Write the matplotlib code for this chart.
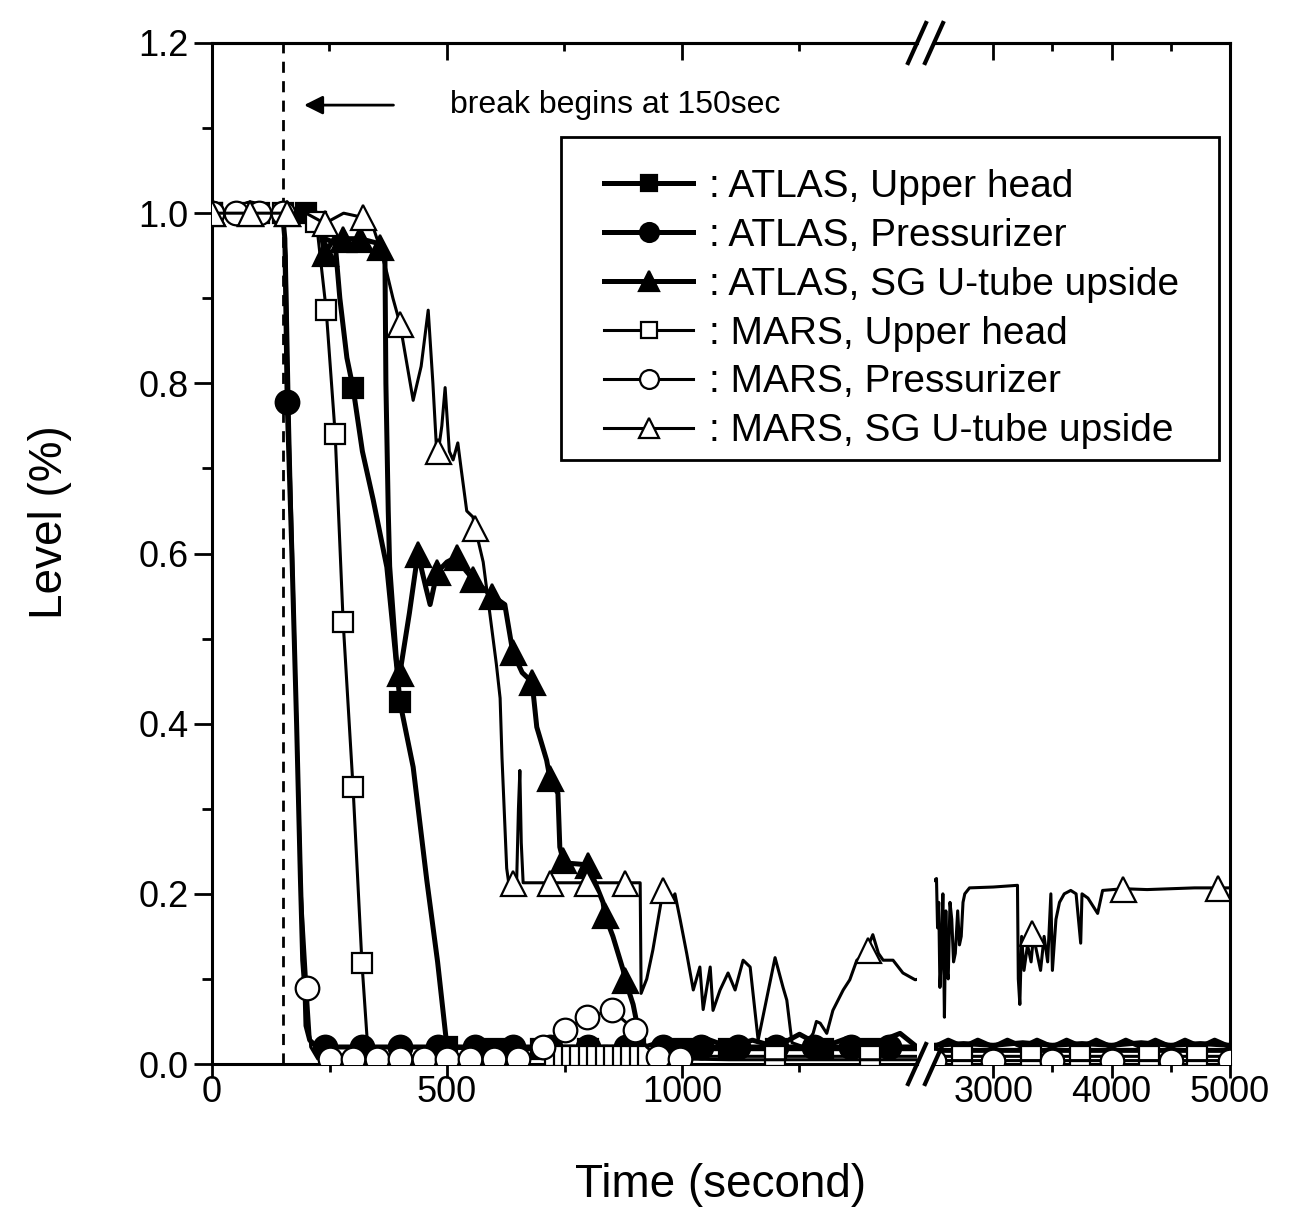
import matplotlib
matplotlib.use('Agg')
import matplotlib.pyplot as plt
from matplotlib.lines import Line2D
from matplotlib.patches import Rectangle
from matplotlib.ticker import FixedLocator, FormatStrFormatter

plt.rcParams['font.family'] = ['Liberation Sans', 'DejaVu Sans']

# ---- data (time in s, level as fraction) ----
atlas_uh_t = [0, 150, 220, 240, 262, 272, 287, 300, 320, 343, 372, 393, 400, 428, 457, 480, 500,
              600, 700, 800, 900, 1000, 1100, 1200, 1300, 1400, 1500,
              2500, 3000, 3500, 4000, 4500, 5000]
atlas_uh_v = [1.0, 1.0, 1.0, 0.97, 0.965, 0.9, 0.83, 0.795, 0.72, 0.663, 0.584, 0.467, 0.425, 0.349, 0.216, 0.12, 0.02,
              0.018, 0.018, 0.018, 0.018, 0.018, 0.018, 0.018, 0.018, 0.018, 0.018,
              0.016, 0.016, 0.016, 0.016, 0.016, 0.016]
atlas_uh_mt = [0, 100, 200, 300, 400, 500, 600, 700, 800, 900, 1000, 1100, 1200, 1300, 1400]
atlas_uh_mv = [1.0, 1.0, 1.0, 0.795, 0.425, 0.02, 0.018, 0.018, 0.018, 0.018, 0.018, 0.018, 0.018, 0.018, 0.018]

atlas_pzr_t = [0, 150, 155, 160, 170, 180, 188, 193, 198, 200, 208, 223, 300, 400, 500, 600, 700, 800,
               900, 1000, 1100, 1200, 1300, 1400, 1500,
               2500, 2750, 3000, 3250, 3500, 3750, 4000, 4250, 4500, 4750, 5000]
atlas_pzr_v = [1.0, 1.0, 0.97, 0.778, 0.6, 0.4, 0.22, 0.122, 0.085, 0.045, 0.028, 0.02, 0.02, 0.02, 0.02, 0.02, 0.02, 0.02,
               0.02, 0.02, 0.02, 0.02, 0.02, 0.02, 0.02,
               0.022, 0.024, 0.022, 0.025, 0.022, 0.024, 0.022, 0.025, 0.022, 0.024, 0.022]
atlas_pzr_mt = [0, 80, 160, 240, 320, 400, 480, 560, 640, 720, 800, 880, 960, 1040, 1120, 1200, 1280, 1360, 1440]
atlas_pzr_mv = [1.0, 1.0, 0.778] + [0.02] * 16

atlas_sg_t = [0, 150, 200, 223, 240, 260, 279, 315, 350, 357, 362, 368, 370, 375, 378, 393, 400, 420, 438,
              455, 464, 479, 500, 521, 540, 555, 575, 596, 610, 623, 640, 660, 681, 691, 712, 719, 736, 740,
              747, 757, 780, 800, 832, 836, 853, 875, 879, 896, 904, 921,
              950, 1000, 1050, 1100, 1150, 1200, 1250, 1300, 1350, 1400, 1464, 1500,
              2500, 2620, 2750, 2870, 3000, 3120, 3250, 3370, 3500, 3620, 3750, 3870, 4000, 4120,
              4250, 4370, 4500, 4620, 4750, 4870, 5000]
atlas_sg_v = [1.0, 1.0, 1.0, 1.0, 0.953, 0.97, 0.97, 0.97, 0.965, 0.96, 0.95, 0.945, 0.8, 0.65, 0.585, 0.47, 0.46, 0.53, 0.6,
              0.56, 0.54, 0.578, 0.59, 0.596, 0.58, 0.57, 0.56, 0.55, 0.545, 0.54, 0.484, 0.46, 0.449, 0.396, 0.357, 0.336, 0.318, 0.255,
              0.24, 0.236, 0.235, 0.234, 0.19, 0.175, 0.15, 0.11, 0.099, 0.07, 0.048, 0.02,
              0.025, 0.02, 0.03, 0.02, 0.028, 0.02, 0.035, 0.02, 0.03, 0.022, 0.036, 0.02,
              0.02, 0.028, 0.02, 0.028, 0.02, 0.028, 0.02, 0.028, 0.02, 0.028, 0.02, 0.028, 0.02, 0.028,
              0.02, 0.028, 0.02, 0.028, 0.02, 0.028, 0.02]
atlas_sg_mt = [0, 80, 160, 240, 279, 315, 357, 400, 438, 479, 521, 555, 596, 640, 681, 719, 747, 800, 836, 879]
atlas_sg_mv = [1.0, 1.0, 1.0, 0.953, 0.97, 0.97, 0.96, 0.46, 0.6, 0.578, 0.596, 0.57, 0.55, 0.484, 0.449, 0.336,
               0.24, 0.234, 0.175, 0.099]

mars_uh_t = [0, 150, 215, 222, 243, 262, 279, 300, 319, 330, 345, 400, 500, 600, 700, 800, 900, 1000,
             1100, 1200, 1300, 1400, 1500, 2500, 3000, 3500, 4000, 4500, 5000]
mars_uh_v = [1.0, 1.0, 1.0, 0.99, 0.886, 0.741, 0.52, 0.326, 0.119, 0.03, 0.009, 0.009, 0.009, 0.009, 0.009, 0.009,
             0.009, 0.009, 0.009, 0.009, 0.009, 0.009, 0.009, 0.009, 0.009, 0.009, 0.009, 0.009, 0.009]
mars_uh_mt = [0, 75, 150, 222, 243, 262, 279, 300, 319,
              730, 748, 766, 784, 802, 820, 838, 856, 874, 892, 910, 928, 1198, 1400,
              2736, 3319, 3733, 4316, 4721]
mars_uh_mv = [1.0, 1.0, 1.0, 0.99, 0.886, 0.741, 0.52, 0.326, 0.119] + [0.009] * 19

mars_pzr_t = [0, 150, 158, 165, 178, 190, 202, 210, 225, 300, 400, 500, 600, 650, 680, 704, 751, 798, 851,
              900, 925, 949, 996, 1100, 1200, 1300, 1400, 1500, 2500, 3000, 3500, 4000, 4500, 5000]
mars_pzr_v = [1.0, 1.0, 0.95, 0.75, 0.45, 0.2, 0.089, 0.02, 0.006, 0.006, 0.006, 0.006, 0.006, 0.006, 0.012, 0.02,
              0.04, 0.055, 0.063, 0.04, 0.02, 0.008, 0.006, 0.005, 0.005, 0.005, 0.005, 0.005, 0.004, 0.004,
              0.004, 0.004, 0.004, 0.004]
mars_pzr_mt = [0, 50, 100, 150, 202, 250, 300, 350, 400, 450, 500, 550, 600, 650, 704, 751, 798, 851, 900,
               949, 996, 2500, 3000, 3500, 4000, 4500, 5000]
mars_pzr_mv = [1.0, 1.0, 1.0, 1.0, 0.089, 0.006, 0.006, 0.006, 0.006, 0.006, 0.006, 0.006, 0.006, 0.006,
               0.02, 0.04, 0.055, 0.063, 0.04, 0.008, 0.006, 0.004, 0.004, 0.004, 0.004, 0.004, 0.004]

mars_sg_t = [0, 150, 200, 240, 280, 321, 345, 357, 372, 385, 400, 428, 445, 460, 470, 479, 489, 496, 505, 513,
             523, 530, 542, 555, 560, 577, 591, 605, 613, 617, 627, 632, 648, 652, 655, 658, 662, 700, 800,
             905, 911, 913, 925, 938, 960, 975, 985, 996, 1010, 1024, 1038, 1045, 1060, 1066, 1081, 1098,
             1113, 1130, 1145, 1162, 1172, 1198, 1215, 1223, 1234, 1260, 1279, 1286, 1294, 1308, 1321, 1343,
             1357, 1372, 1390, 1406, 1418, 1428, 1449, 1470, 1496,
             2521, 2530, 2540, 2550, 2560, 2575, 2588, 2600, 2610, 2620, 2635, 2650, 2665, 2680, 2700, 2715,
             2730, 2745, 2760, 2800, 3000, 3205,
             3212, 3225, 3240, 3260, 3290, 3320, 3340, 3370, 3400, 3430, 3460, 3487, 3500, 3530, 3560,
             3600, 3655, 3700, 3739, 3750, 3800, 3882, 3924, 4100, 4300, 4500, 4700, 5000]
mars_sg_v = [1.0, 1.0, 1.0, 0.988, 1.0, 0.995, 0.98, 0.96, 0.93, 0.9, 0.87, 0.78, 0.82, 0.886, 0.8, 0.71, 0.75,
             0.795, 0.72, 0.71, 0.73, 0.7, 0.65, 0.643, 0.63, 0.59, 0.53, 0.47, 0.43, 0.36, 0.23, 0.21, 0.21,
             0.30, 0.345, 0.26, 0.213, 0.213, 0.213, 0.213, 0.213, 0.083, 0.1, 0.134, 0.205, 0.19, 0.2, 0.17,
             0.13, 0.087, 0.114, 0.064, 0.114, 0.063, 0.087, 0.107, 0.087, 0.122, 0.114, 0.028, 0.055, 0.125,
             0.09, 0.075, 0.025, 0.02, 0.036, 0.05, 0.048, 0.036, 0.063, 0.087, 0.099, 0.122, 0.13, 0.152,
             0.13, 0.122, 0.122, 0.107, 0.099,
             0.218, 0.16, 0.19, 0.09, 0.12, 0.2, 0.055, 0.18, 0.11, 0.1, 0.19, 0.17, 0.12, 0.13, 0.18, 0.14,
             0.15, 0.19, 0.2, 0.207, 0.208, 0.21,
             0.1, 0.07, 0.15, 0.11, 0.14, 0.12, 0.15, 0.13, 0.11, 0.15, 0.12, 0.2, 0.11, 0.17, 0.19,
             0.2, 0.204, 0.2, 0.142, 0.2, 0.195, 0.177, 0.204, 0.206, 0.205, 0.206, 0.207, 0.207]
mars_sg_mt = [0, 80, 160, 240, 321, 400, 481, 560, 640, 719, 798, 879, 960, 1396, 3328, 4096, 4899]
mars_sg_mv = [1.0, 1.0, 1.0, 0.988, 0.995, 0.87, 0.72, 0.63, 0.213, 0.213, 0.213, 0.213, 0.205, 0.134,
              0.154, 0.206, 0.207]

labels = [': ATLAS, Upper head', ': ATLAS, Pressurizer', ': ATLAS, SG U-tube upside',
          ': MARS, Upper head', ': MARS, Pressurizer', ': MARS, SG U-tube upside']

series = [
    (atlas_uh_t, atlas_uh_v, atlas_uh_mt, atlas_uh_mv, 's', 15, 'k', 3.6),
    (atlas_pzr_t, atlas_pzr_v, atlas_pzr_mt, atlas_pzr_mv, 'o', 17, 'k', 3.6),
    (atlas_sg_t, atlas_sg_v, atlas_sg_mt, atlas_sg_mv, '^', 18, 'k', 3.6),
    (mars_uh_t, mars_uh_v, mars_uh_mt, mars_uh_mv, 's', 15, 'w', 2.2),
    (mars_pzr_t, mars_pzr_v, mars_pzr_mt, mars_pzr_mv, 'o', 17, 'w', 2.2),
    (mars_sg_t, mars_sg_v, mars_sg_mt, mars_sg_mv, '^', 18, 'w', 2.2),
]

W, H = 1307, 1209
fig = plt.figure(figsize=(W / 100, H / 100), dpi=100)
bot = (H - 1064) / H
hgt = (1064 - 43) / H
ax1 = fig.add_axes([212 / W, bot, (917 - 212) / W, hgt])
ax2 = fig.add_axes([934 / W, bot, (1230 - 934) / W, hgt])

for ax in (ax1, ax2):
    for i, (t, v, mt, mv, mk, ms, fc, lw) in enumerate(series):
        ax.plot(t, v, color='k', lw=lw, zorder=2 + i)
        ax.plot(mt, mv, ls='none', marker=mk, ms=ms, mfc=fc, mec='k', mew=1.6, zorder=2 + i)
    ax.set_ylim(0, 1.2)
    for sp in ax.spines.values():
        sp.set_linewidth(2.2)

ax1.set_xlim(0, 1500)
ax2.set_xlim(2500, 5000)
ax1.spines['right'].set_visible(False)
ax2.spines['left'].set_visible(False)

# ticks
ax1.set_xticks([0, 500, 1000])
ax1.xaxis.set_minor_locator(FixedLocator([250, 750, 1250]))
ax2.set_xticks([3000, 4000, 5000])
ax2.xaxis.set_minor_locator(FixedLocator([3500, 4500]))
ax1.set_yticks([0, 0.2, 0.4, 0.6, 0.8, 1.0, 1.2])
ax1.yaxis.set_minor_locator(FixedLocator([0.1, 0.3, 0.5, 0.7, 0.9, 1.1]))
ax1.yaxis.set_major_formatter(FormatStrFormatter('%.1f'))
ax2.tick_params(axis='y', which='both', left=False, labelleft=False)
for ax in (ax1, ax2):
    ax.tick_params(axis='y', which='major', length=13, width=2, labelsize=26, pad=4, direction='out')
    ax.tick_params(axis='y', which='minor', length=7, width=2, direction='out')
    ax.tick_params(axis='x', which='major', length=10, width=2, labelsize=26, pad=-2, direction='out')
    ax.tick_params(axis='x', which='minor', length=6, width=2, direction='out')
    top = ax.secondary_xaxis('top')
    top.set_xticks(ax.get_xticks())
    top.xaxis.set_minor_locator(FixedLocator(ax.xaxis.get_minor_locator().locs))
    top.tick_params(which='major', direction='in', length=12, width=2, labeltop=False)
    top.tick_params(which='minor', direction='in', length=6, width=2)
    top.spines['top'].set_linewidth(2.2)

# break marks
for ax, x0 in ((ax1, 1.0), (ax2, 0.0)):
    kw = dict(color='k', lw=3, clip_on=False, transform=ax.transAxes, zorder=20)
    dx = 9 / ax.bbox.width
    dy = 20 / ax.bbox.height
    for y0 in (0.0, 1.0):
        ax.plot([x0 - dx, x0 + dx], [y0 - dy, y0 + dy], **kw)

# break annotation
ax1.axvline(150, color='k', lw=2, ls=(0, (4, 3)), zorder=1)
ax1.annotate('', xy=(190, 1.127), xytext=(392, 1.127),
             arrowprops=dict(arrowstyle='-|>', color='k', lw=2, mutation_scale=28))
ax1.text(506, 1.127, 'break begins at 150sec', fontsize=23, ha='left', va='center')

fig.text(721 / W, 1 - 1185 / H, 'Time (second)', fontsize=33, ha='center', va='center')
fig.text(50 / W, 1 - 522 / H, 'Level (%)', fontsize=33, ha='center', va='center', rotation=90)

# legend: frame drawn as its own box, entries placed inside
frame = Rectangle((561 / W, 1 - 460 / H), (1219 - 561) / W, (460 - 137) / H, transform=fig.transFigure,
                  fc='w', ec='k', lw=2, zorder=5)
fig.add_artist(frame)
handles = [Line2D([], [], color='k', lw=lw, marker=mk, ms=ms, mfc=fc, mec='k', mew=1.6)
           for (_, _, _, _, mk, ms, fc, lw) in series]
leg = fig.legend(handles, labels, loc='upper left', bbox_to_anchor=(604 / W, 1 - 169 / H),
                 fontsize=28, frameon=False, handlelength=2.3, handletextpad=0.4, labelspacing=0.33,
                 borderpad=0, borderaxespad=0, markerscale=0.8, numpoints=1)
leg.set_zorder(6)

fig.savefig('out.png', dpi=100)
